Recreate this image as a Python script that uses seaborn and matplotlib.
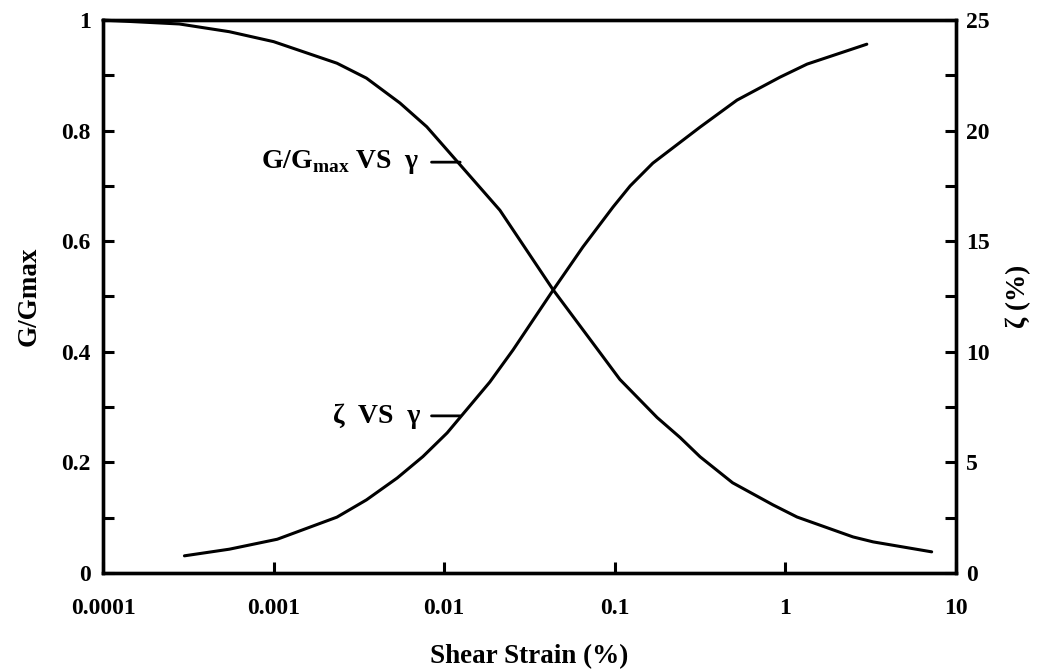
import numpy as np
import matplotlib
matplotlib.use("Agg")
import matplotlib.pyplot as plt
import seaborn as sns

# G/Gmax curve (left axis)
strain_g = [0.0001, 0.00028, 0.00055, 0.001, 0.00235, 0.0035, 0.0055, 0.0079, 0.0104,
            0.0212, 0.0435, 0.082, 0.107, 0.177, 0.241, 0.316, 0.49, 0.845, 1.17, 2.49, 3.27, 7.2]
g_ratio = [1.0, 0.993, 0.979, 0.961, 0.922, 0.895, 0.850, 0.807, 0.765,
           0.656, 0.512, 0.398, 0.350, 0.281, 0.245, 0.210, 0.163, 0.123, 0.101, 0.065, 0.056, 0.038]

# damping curve (right axis, %)
strain_d = [0.0003, 0.00055, 0.00105, 0.00235, 0.0035, 0.0053, 0.0075, 0.0104, 0.0185,
            0.0253, 0.0435, 0.065, 0.0977, 0.123, 0.167, 0.316, 0.52, 0.93, 1.34, 3.0]
damping = [0.77, 1.07, 1.52, 2.52, 3.30, 4.29, 5.26, 6.33, 8.63,
           10.08, 12.79, 14.74, 16.55, 17.5, 18.53, 20.16, 21.38, 22.42, 23.01, 23.91]

x_ticks = [0.0001, 0.001, 0.01, 0.1, 1, 10]
x_ticklabels = ["0.0001", "0.001", "0.01", "0.1", "1", "10"]
g_ticks = [0, 0.2, 0.4, 0.6, 0.8, 1]
g_ticklabels = ["0", "0.2", "0.4", "0.6", "0.8", "1"]
d_ticks = [0, 5, 10, 15, 20, 25]

sns.set_style("ticks")
plt.rcParams['font.family'] = ['Liberation Serif', 'DejaVu Serif']
plt.rcParams['font.weight'] = 'bold'
plt.rcParams['mathtext.fontset'] = 'custom'
plt.rcParams['mathtext.rm'] = 'Liberation Serif:bold'
plt.rcParams['mathtext.bf'] = 'Liberation Serif:bold'
for key in ['text.color', 'axes.labelcolor', 'xtick.color', 'ytick.color']:
    plt.rcParams[key] = 'black'

fig = plt.figure(figsize=(10.43, 6.70), dpi=100)
ax = fig.add_axes([0.0988, 0.145, 0.8178, 0.825])
ax2 = ax.twinx()

sns.lineplot(x=strain_g, y=g_ratio, ax=ax, color="black", linewidth=2.2, clip_on=False)
sns.lineplot(x=strain_d, y=damping, ax=ax2, color="black", linewidth=2.2)

ax.set_xscale("log")
ax.set_xlim(0.0001, 10)
ax.set_ylim(0, 1)
ax2.set_ylim(0, 25)

ax.set_xticks(x_ticks)
ax.set_xticklabels(x_ticklabels)
ax.xaxis.set_minor_locator(matplotlib.ticker.NullLocator())
ax.set_yticks(g_ticks)
ax.set_yticklabels(g_ticklabels)
ax.yaxis.set_minor_locator(matplotlib.ticker.MultipleLocator(0.1))
ax2.set_yticks(d_ticks)
ax2.set_yticklabels([str(t) for t in d_ticks])
ax2.yaxis.set_minor_locator(matplotlib.ticker.MultipleLocator(2.5))

for a in (ax, ax2):
    for s in a.spines.values():
        s.set_linewidth(2.4)
        s.set_color("black")
    a.tick_params(which="both", direction="in", length=8, width=2.2, labelsize=17,
                  colors="black", pad=9)
ax.tick_params(axis="x", pad=18)
ax2.tick_params(axis="y", pad=7)
ax.tick_params(top=False, right=False, which="both")

ax.set_xlabel("Shear Strain (%)", fontsize=19.5, fontweight="bold", labelpad=18)
ax.set_ylabel("G/Gmax", fontsize=19.5, fontweight="bold", labelpad=14)
ax2.set_ylabel("ζ (%)", fontsize=19.5, fontweight="bold", labelpad=12)

ax.annotate(r"G/G$_{\mathbf{max}}$ VS  γ", xy=(0.0124, 0.743), xytext=(0.0072, 0.743),
            ha="right", va="center", fontsize=20, fontweight="bold",
            arrowprops=dict(arrowstyle="-", color="black", lw=2, shrinkA=6, shrinkB=0))
ax.annotate("ζ  VS  γ", xy=(0.0124, 0.284), xytext=(0.0072, 0.284),
            ha="right", va="center", fontsize=20, fontweight="bold",
            arrowprops=dict(arrowstyle="-", color="black", lw=2, shrinkA=6, shrinkB=0))

fig.savefig("out.png", dpi=100)
